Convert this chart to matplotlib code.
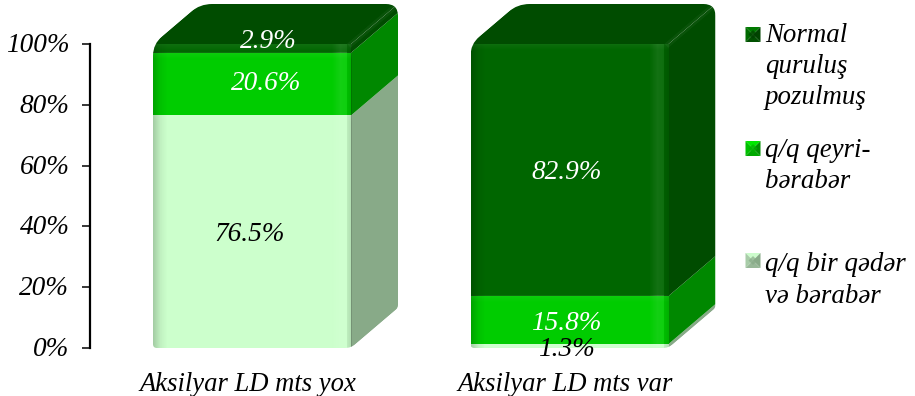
import numpy as np
import matplotlib
matplotlib.use('Agg')
import matplotlib.pyplot as plt
from matplotlib.path import Path
from matplotlib.patches import Polygon
from matplotlib.transforms import ScaledTranslation

plt.rcParams['font.family'] = ['Liberation Serif', 'DejaVu Serif']
plt.rcParams['font.style'] = 'italic'
plt.rcParams['font.size'] = 19.6

# datos
categories = ['Aksilyar LD mts yox', 'Aksilyar LD mts var']
moderate = [76.5, 1.3]
uneven = [20.6, 15.8]
disturbed = [2.9, 82.9]
series = [moderate, uneven, disturbed]
legend_lines = [['Normal', 'quruluş', 'pozulmuş'], ['q/q qeyri-', 'bərabər'], ['q/q bir qədər', 'və bərabər']]

front_colors = ['#CCFFCC', '#00CC00', '#006600']
side_colors = ['#88AA88', '#008800', '#004C00']
label_colors = [['black', 'white', 'white'], ['black', 'white', 'white']]
# desplazamiento de cada etiqueta en pixeles (dx, dy)
label_offsets = [[(-2, -3), (14, 1), (16, 7)], [(-3, -3), (-3, -3), (-3, -2)]]

W, H = 915, 396
px_per_cat = 317.5
px_per_pct = 3.04
bar_w = 198 / px_per_cat
depth_x = 47 / px_per_cat
depth_y = 40 / px_per_pct

fig = plt.figure(figsize=(W / 100, H / 100), dpi=100)
left_px, right_px, top_px, bottom_px = 90, 730, 44, 348
ax = fig.add_axes([left_px / W, 1 - bottom_px / H, (right_px - left_px) / W, (bottom_px - top_px) / H])
ax.set_facecolor('none')


def rounded(points, radii):
    # poligono cerrado con esquinas redondeadas, radios en pixeles
    scale = np.array([px_per_cat, px_per_pct])
    verts, codes = [], []
    n = len(points)
    for i in range(n):
        p = np.array(points[i], float)
        a = np.array(points[i - 1], float)
        b = np.array(points[(i + 1) % n], float)
        da = (a - p) * scale
        db = (b - p) * scale
        r = radii[i]
        p1 = p + (a - p) * min(r / np.linalg.norm(da), 0.5)
        p2 = p + (b - p) * min(r / np.linalg.norm(db), 0.5)
        verts.append(p1)
        codes.append(Path.MOVETO if i == 0 else Path.LINETO)
        verts += [p, p2]
        codes += [Path.CURVE3, Path.CURVE3]
    verts.append(verts[0])
    codes.append(Path.CLOSEPOLY)
    return Path(verts, codes)


# sombreado horizontal del frente: oscuro en los bordes, brillo cerca de la derecha
pos = np.array([0, 0.035, 0.07, 0.9, 0.945, 0.975, 1])
whites = np.array([0, 0, 0, 0, 0.08, 0, 0])
blacks = np.array([0.2, 0.06, 0, 0, 0, 0.06, 0.14])
u = np.linspace(0, 1, 200)
wa = np.interp(u, pos, whites)
ba = np.interp(u, pos, blacks)
shade = np.zeros((1, 200, 4))
shade[0, :, :3] = (wa > 0)[:, None] * 1.0
shade[0, :, 3] = wa + ba

for i in range(len(categories)):
    x0, x1 = i - bar_w / 2, i + bar_w / 2
    outline = rounded([(x0, 0), (x1, 0), (x1 + depth_x, depth_y), (x1 + depth_x, 100 + depth_y),
                       (x0 + depth_x, 100 + depth_y), (x0, 100)], [4, 6, 3, 12, 12, 12])
    vals = [s[i] for s in series]
    bottoms = np.concatenate([[0], np.cumsum(vals)[:-1]])
    arts = []
    for k, (v, b) in enumerate(zip(vals, bottoms)):
        arts += ax.bar(i, v, bar_w, bottom=b, color=front_colors[k], linewidth=0, zorder=3)
        side = Polygon([(x1, b), (x1 + depth_x, b + depth_y), (x1 + depth_x, b + v + depth_y), (x1, b + v)],
                       closed=True, facecolor=side_colors[k], edgecolor='none', zorder=2)
        ax.add_patch(side)
        arts.append(side)
        arts.append(ax.imshow(shade, extent=[x0, x1, b, b + v], aspect='auto', zorder=4))
        # brillo suave en el borde superior de cada tramo
        rows = max(int(v * px_per_pct), 2)
        glow = np.ones((rows, 1, 4))
        glow[:, 0, 3] = 0.06 * np.clip(1 - np.arange(rows) / 7, 0, 1)
        arts.append(ax.imshow(glow, extent=[x0, x1, b, b + v], aspect='auto', zorder=4))
    top = Polygon([(x0, 100), (x1, 100), (x1 + depth_x, 100 + depth_y), (x0 + depth_x, 100 + depth_y)],
                  closed=True, facecolor=side_colors[2], edgecolor='none', zorder=5)
    ax.add_patch(top)
    arts.append(top)
    # arista entre la cara superior y el lateral
    arts += ax.plot([x1, x1 + depth_x], [100, 100 + depth_y], color='white', alpha=0.04, lw=4, zorder=6)
    for a in arts:
        a.set_clip_path(outline, ax.transData)
        a.set_clip_box(fig.bbox)
    for k, (v, b) in enumerate(zip(vals, bottoms)):
        ax.annotate(f'{v}%', (i, b + v / 2), xytext=(label_offsets[i][k][0] * 0.72, label_offsets[i][k][1] * 0.72),
                    textcoords='offset points', ha='center', va='center', color=label_colors[i][k],
                    zorder=8, annotation_clip=False)

ax.set_xlim(-(252 - left_px) / px_per_cat, (right_px - 252) / px_per_cat)
ax.set_ylim(0, 100)
ax.set_yticks(range(0, 101, 20))
ax.set_yticklabels([f'{t}%' for t in range(0, 101, 20)], va='center_baseline')
ax.set_xticks([i - 4 / px_per_cat for i in range(len(categories))])
ax.set_xticklabels(categories, fontsize=19.15)
ax.tick_params(axis='y', length=5.8, width=1.1, pad=9)
ax.tick_params(axis='x', length=0, pad=17)
# subir un poco los textos del eje y
nudge = ScaledTranslation(0, 1.5 / 100, fig.dpi_scale_trans)
for lab in ax.get_yticklabels():
    lab.set_transform(lab.get_transform() + nudge)
for name in ['top', 'right', 'bottom']:
    ax.spines[name].set_visible(False)
ax.spines['left'].set_linewidth(1.6)

# leyenda en coordenadas de pixel
lax = fig.add_axes([0, 0, 1, 1])
lax.set_xlim(0, W)
lax.set_ylim(H, 0)
lax.axis('off')
swatch_tops = [27, 141, 253]
baselines = [[42, 73, 104], [157, 188], [271, 303]]


def swatch(x, y, s, cols):
    # cuadrito en bisel: cuatro triangulos y un centro mas oscuro
    base, lit, dark, side, mid = cols
    c = (x + s / 2, y + s / 2)
    lax.add_patch(Polygon([c, (x, y), (x + s, y)], facecolor=lit, edgecolor='none'))
    lax.add_patch(Polygon([c, (x + s, y), (x + s, y + s)], facecolor=side, edgecolor='none'))
    lax.add_patch(Polygon([c, (x + s, y + s), (x, y + s)], facecolor=dark, edgecolor='none'))
    lax.add_patch(Polygon([c, (x, y + s), (x, y)], facecolor=base, edgecolor='none'))
    d = s * 0.3
    lax.add_patch(Polygon([(c[0] - d, c[1]), (c[0], c[1] - d), (c[0] + d, c[1]), (c[0], c[1] + d)],
                          facecolor=mid, edgecolor='none', alpha=0.7))


swatch_shades = [('#006A00', '#007A00', '#005000', '#004400', '#004000'),
                 ('#00C000', '#00E800', '#00A800', '#009000', '#00B000'),
                 ('#A8CCA8', '#CCFCCC', '#98B898', '#88AA88', '#88AA88')]
for t, lines, base, cols in zip(swatch_tops, legend_lines, baselines, swatch_shades):
    swatch(745.5, t, 15, cols)
    for line, y in zip(lines, base):
        lax.text(765, y, line, ha='left', va='baseline', fontsize=19.4)

fig.savefig('out.png', dpi=100)
